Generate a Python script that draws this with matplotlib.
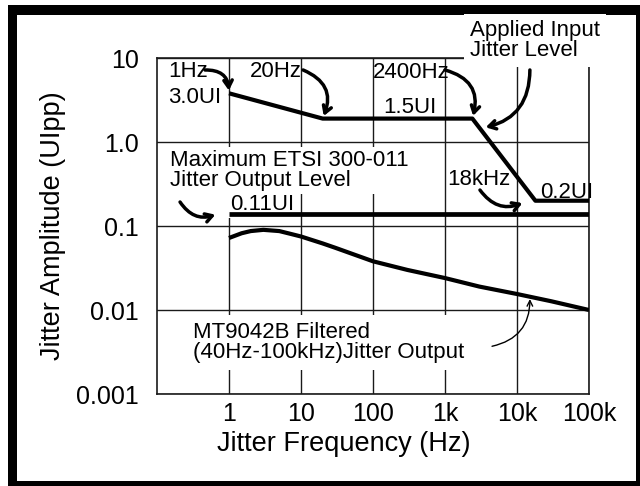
import matplotlib
matplotlib.use("Agg")
import matplotlib.pyplot as plt
from matplotlib.patches import Rectangle

plt.rcParams['font.family'] = ['Liberation Sans', 'DejaVu Sans']

# applied input jitter level (as drawn)
mask_freq = [1, 20, 2400, 18000, 100000]
mask_ui = [3.8, 1.9, 1.9, 0.2, 0.2]

# maximum ETSI 300-011 jitter output level
etsi_freq = [1, 100000]
etsi_ui = [0.14, 0.14]

# MT9042B filtered jitter output
out_freq = [1, 1.5, 2, 3, 5, 7, 10, 20, 30, 50, 100, 300, 1000, 3000, 10000, 30000, 100000]
out_ui = [0.072, 0.082, 0.087, 0.09, 0.087, 0.081, 0.075, 0.062, 0.055, 0.047,
          0.038, 0.030, 0.024, 0.019, 0.0155, 0.0127, 0.010]

xticks = [1, 10, 100, 1000, 10000, 100000]
xticklabels = ['1', '10', '100', '1k', '10k', '100k']
yticks = [0.001, 0.01, 0.1, 1, 10]
yticklabels = ['0.001', '0.01', '0.1', '1.0', '10']

fig = plt.figure(figsize=(6.4, 4.86), dpi=100)

# outer frame
fig.patches.append(Rectangle((8 / 640, 0), 632 / 640, 481 / 486, transform=fig.transFigure,
                             facecolor='black', edgecolor='none', zorder=0))
fig.patches.append(Rectangle((17 / 640, 5 / 486), 619 / 640, 466 / 486, transform=fig.transFigure,
                             facecolor='white', edgecolor='none', zorder=0))

ax = fig.add_axes([157 / 640, 92 / 486, 432 / 640, 336 / 486])
ax.set_zorder(2)
ax.patch.set_alpha(0)
ax.set_xscale('log')
ax.set_yscale('log')
ax.set_xlim(0.1, 100000)
ax.set_ylim(0.001, 10)

ax.set_xticks(xticks)
ax.set_xticklabels(xticklabels)
ax.set_yticks(yticks)
ax.set_yticklabels(yticklabels)
ax.minorticks_off()
ax.tick_params(axis='x', length=0, pad=6, labelsize=18)
ax.tick_params(axis='y', length=0, pad=13, labelsize=18)
ax.grid(True, color='#1a1a1a', lw=1.0)
for s in ax.spines.values():
    s.set_linewidth(1.2)
    s.set_color('#1a1a1a')

ax.set_xlabel('Jitter Frequency (Hz)', fontsize=19.5)
ax.xaxis.set_label_coords(0.432, -0.11)
ax.set_ylabel('Jitter Amplitude (UIpp)', fontsize=19.5)
ax.yaxis.set_label_coords(-0.21, 0.5)

ax.plot(mask_freq, mask_ui, color='black', lw=3, solid_capstyle='butt', zorder=4)
ax.plot(etsi_freq, etsi_ui, color='black', lw=3.4, solid_capstyle='butt', zorder=4)
ax.plot(out_freq, out_ui, color='black', lw=3, solid_capstyle='butt', zorder=4)

fs = 16
white = dict(facecolor='white', edgecolor='none', pad=2)
ax.text(0.142, 5.94, '1Hz', fontsize=fs, va='baseline')
ax.text(0.142, 2.91, '3.0UI', fontsize=fs, va='baseline')
ax.text(1.96, 5.94, '20Hz', fontsize=fs, va='baseline')
ax.text(100, 5.78, '2400Hz', fontsize=fs, va='baseline')
ax.text(137, 2.21, '1.5UI', fontsize=fs, va='baseline')
ax.text(2223, 28.3, 'Applied Input\nJitter Level', fontsize=fs, va='top', linespacing=0.95,
        bbox=dict(facecolor='white', edgecolor='none', pad=4), clip_on=False, zorder=6)
ax.text(0.152, 0.80, 'Maximum ETSI 300-011\nJitter Output Level', fontsize=fs, va='top',
        linespacing=0.95, bbox=white, zorder=3)
ax.text(1.03, 0.155, '0.11UI', fontsize=fs, va='baseline', bbox=white, zorder=3)
ax.text(1067, 0.308, '18kHz', fontsize=fs, va='baseline')
ax.text(20900, 0.216, '0.2UI', fontsize=fs, va='baseline')
ax.text(0.316, 0.0072, 'MT9042B Filtered\n(40Hz-100kHz)Jitter Output', fontsize=fs, va='top',
        linespacing=0.95, bbox=dict(facecolor='white', edgecolor='none', pad=5), zorder=3)

thick = dict(arrowstyle='->,head_length=0.5,head_width=0.3', lw=2.5, color='black',
             shrinkA=0, shrinkB=2)
ax.annotate('', xy=(mask_freq[0], mask_ui[0]), xytext=(0.464, 7.2),
            arrowprops=dict(thick, connectionstyle='arc3,rad=-0.5'), zorder=5)
ax.annotate('', xy=(mask_freq[1], mask_ui[1]), xytext=(10.7, 7.2),
            arrowprops=dict(thick, connectionstyle='arc3,rad=-0.5'), zorder=5)
ax.annotate('', xy=(mask_freq[2], mask_ui[2]), xytext=(1000, 7.2),
            arrowprops=dict(thick, connectionstyle='arc3,rad=-0.5'), zorder=5)
ax.annotate('', xy=(3370, 1.47), xytext=(15100, 7.2),
            arrowprops=dict(thick, connectionstyle='arc3,rad=-0.4'), zorder=5)
ax.annotate('', xy=(0.703, etsi_ui[0]), xytext=(0.209, 0.193),
            arrowprops=dict(thick, connectionstyle='arc3,rad=0.4'), zorder=5)
ax.annotate('', xy=(12900, 0.193), xytext=(3060, 0.268),
            arrowprops=dict(thick, connectionstyle='arc3,rad=0.4'), zorder=5)
ax.annotate('', xy=(15100, 0.0135), xytext=(4500, 0.0037),
            arrowprops=dict(arrowstyle='->,head_length=0.4,head_width=0.2', lw=1, color='black',
                            shrinkA=0, shrinkB=0, connectionstyle='arc3,rad=0.4'), zorder=5)

fig.savefig('out.png', dpi=100)
